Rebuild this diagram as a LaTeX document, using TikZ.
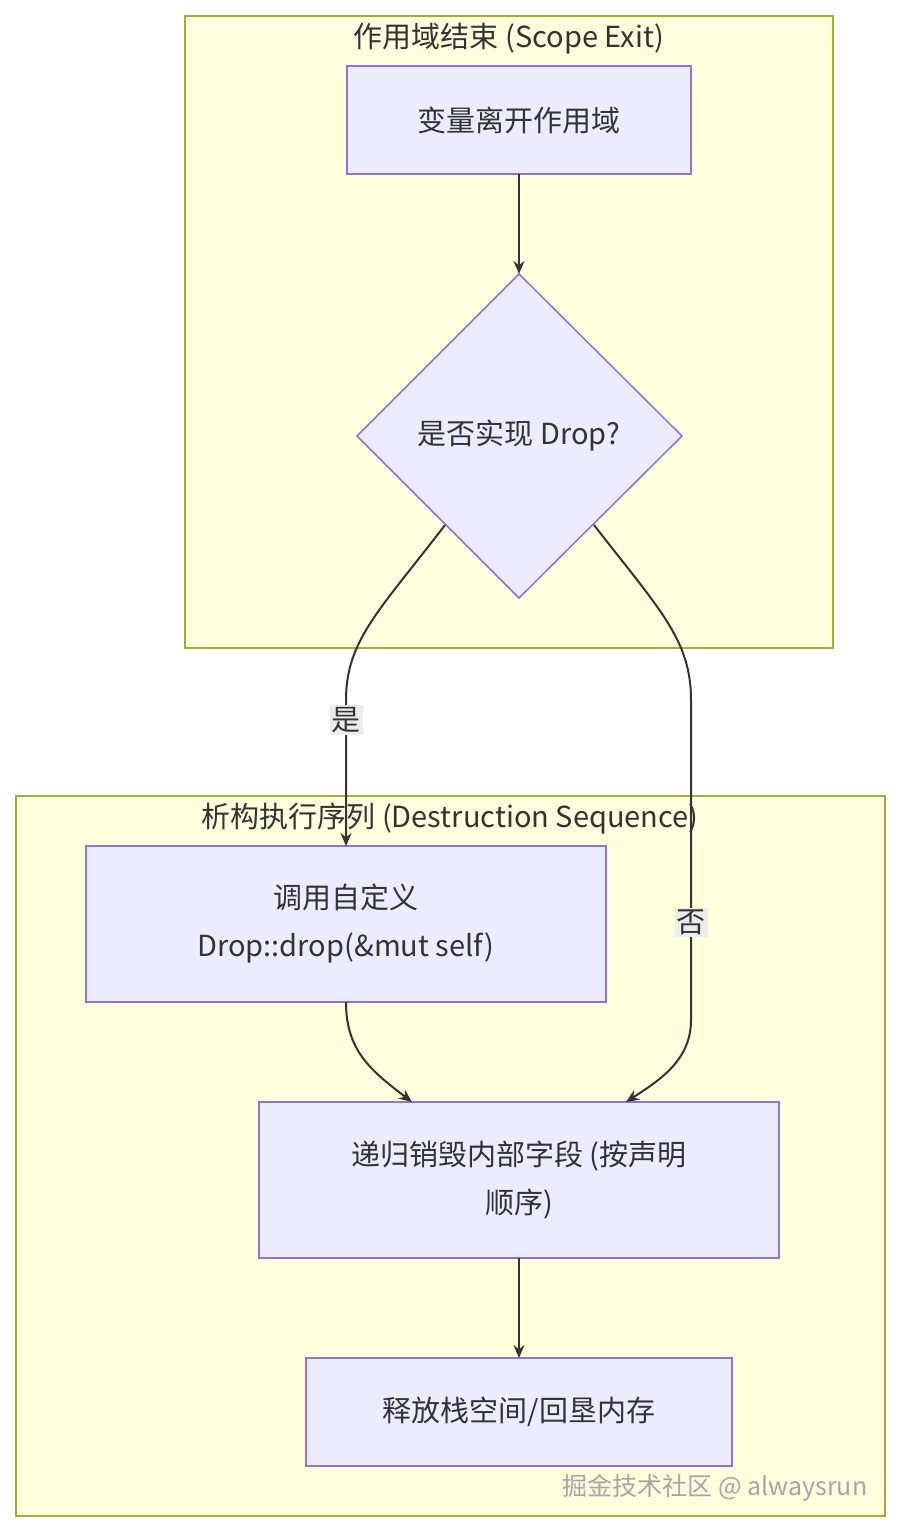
\documentclass[tikz,border=0pt]{standalone}
\usepackage{fontspec}
\setmainfont{Noto Sans CJK SC}
\usetikzlibrary{shapes.geometric,arrows.meta}
\definecolor{clusterfill}{HTML}{FFFFDE}
\definecolor{clusterline}{HTML}{AAAA33}
\definecolor{boxfill}{HTML}{ECECFF}
\definecolor{boxline}{HTML}{9370DB}
\definecolor{edgeline}{HTML}{333333}
\begin{document}
\begin{tikzpicture}[x=1pt,y=-1pt,>={Stealth[length=13pt,width=11pt]},
    every node/.style={font=\fontsize{29}{48}\selectfont,text=edgeline},
    cluster/.style={draw=clusterline,fill=clusterfill,line width=1.5pt},
    stepbox/.style={draw=boxline,fill=boxfill,line width=1.5pt},
    flow/.style={->,draw=edgeline,line width=2pt},
    tag/.style={fill=gray!15,inner sep=2pt}]
    \useasboundingbox[fill=white] (0,0) rectangle (901,1532);

    % clusters
    \draw[cluster] (185,16) rectangle (833,648);
    \node at (509,39) {作用域结束 (Scope Exit)};
    \draw[cluster] (16,796) rectangle (885,1516);

    % steps
    \draw[stepbox] (347,66) rectangle (691,174);
    \node (leave) at (519,120) {变量离开作用域};
    \draw[stepbox] (519,274) -- (682,436) -- (519,598) -- (357,436) -- cycle;
    \node (check) at (519,436) {是否实现 Drop?};
    \draw[stepbox] (86,846) rectangle (606,1002);
    \node[align=center] (custom) at (346,924) {调用自定义\\Drop::drop(\&mut self)};
    \draw[stepbox] (259,1102) rectangle (779,1258);
    \node[align=center] (fields) at (519,1180) {递归销毁内部字段 (按声明\\顺序)};
    \draw[stepbox] (306,1358) rectangle (732,1466);
    \node (free) at (519,1412) {释放栈空间/回垦内存};

    % anchors
    \coordinate (leaveS) at (519,174);
    \coordinate (checkN) at (519,274);
    \coordinate (checkL) at (445,525);
    \coordinate (checkR) at (594,525);
    \coordinate (customN) at (346,846);
    \coordinate (customS) at (346,1002);
    \coordinate (fieldsA) at (412,1102);
    \coordinate (fieldsB) at (626,1102);
    \coordinate (fieldsS) at (519,1258);
    \coordinate (freeN) at (519,1358);

    % connectors
    \draw[flow] (leaveS) -- (checkN);
    \draw[flow] (checkL) .. controls (380,610) and (346,640) .. (346,700) -- (customN);
    \draw[flow] (checkR) .. controls (660,610) and (691,640) .. (691,700) -- (691,1020) .. controls (691,1060) and (660,1080) .. (fieldsB);
    \draw[flow] (customS) .. controls (346,1050) and (370,1070) .. (fieldsA);
    \draw[flow] (fieldsS) -- (freeN);
    \node[tag] at (346,720) {是};
    \node[tag] at (691,922) {否};

    % second cluster title drawn above the edges
    \node at (450,819) {析构执行序列 (Destruction Sequence)};

    \node[text=gray!70,font=\fontsize{25}{30}\selectfont] at (715,1488) {掘金技术社区 @ alwaysrun};
\end{tikzpicture}
\end{document}
